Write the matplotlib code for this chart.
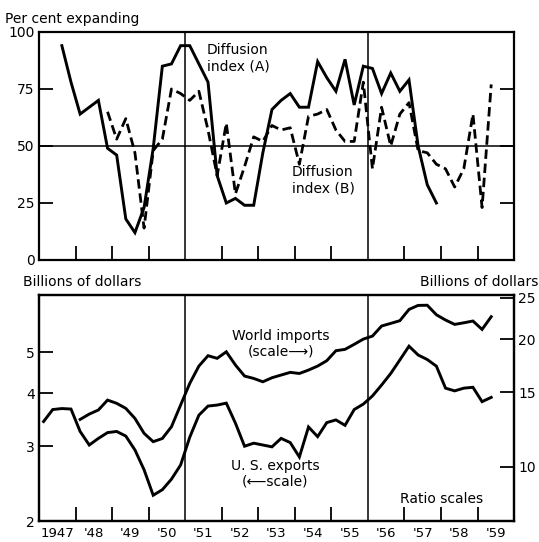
import matplotlib.pyplot as plt
import numpy as np
from matplotlib.ticker import FixedLocator, NullLocator, NullFormatter, FixedFormatter

# quarterly observations, 1947 Q1 .. 1959 Q2 (plotted at mid-quarter)
quarters = [1947 + (q + 0.5) / 4 for q in range(50)]
nan = np.nan

diffusion_a = [nan, nan, 94, 78, 64, 67, 70, 49, 46, 18,
               12, 23, 49, 85, 86, 94, 94, 86, 78, 37,
               25, 27, 24, 24, 47, 66, 70, 73, 67, 67,
               87, 80, 74, 88, 68, 85, 84, 73, 82, 74,
               79, 50, 33, 25, nan, nan, nan, nan, nan, nan]

diffusion_b = [nan, nan, nan, nan, nan, nan, nan, 65, 53, 62,
               47, 14, 48, 53, 75, 73, 70, 74, 57, 37,
               60, 29, 41, 54, 52, 59, 57, 58, 42, 63,
               64, 66, 57, 52, 52, 78, 40, 67, 50, 64,
               69, 48, 47, 42, 40, 32, 40, 64, 23, 77]

us_exports = [3.43, 3.66, 3.68, 3.67, 3.25, 3.02, 3.13, 3.23, 3.25, 3.17,
              2.94, 2.64, 2.30, 2.37, 2.51, 2.71, 3.15, 3.55, 3.73, 3.75,
              3.79, 3.40, 3.00, 3.05, 3.02, 2.99, 3.13, 3.06, 2.83, 3.33,
              3.16, 3.41, 3.46, 3.36, 3.66, 3.77, 3.94, 4.18, 4.45, 4.79,
              5.16, 4.92, 4.80, 4.63, 4.11, 4.05, 4.11, 4.13, 3.82, 3.91]

world_imports = [nan, nan, nan, nan, 12.94, 13.32, 13.62, 14.37, 14.12, 13.74,
                 13.01, 12.00, 11.47, 11.67, 12.44, 13.99, 15.73, 17.28, 18.28, 18.02,
                 18.67, 17.38, 16.37, 16.16, 15.87, 16.22, 16.46, 16.70, 16.60, 16.91,
                 17.28, 17.79, 18.78, 18.92, 19.44, 20.00, 20.33, 21.47, 21.78, 22.10,
                 23.49, 24.01, 24.03, 22.82, 22.18, 21.66, 21.85, 22.06, 21.08, 22.58]

year_ticks = [1948, 1949, 1950, 1952, 1953, 1954, 1955, 1957, 1958, 1959]
marker_years = [1951, 1956]
year_labels = ["1947", "'48", "'49", "'50", "'51", "'52", "'53", "'54", "'55", "'56", "'57", "'58", "'59"]
year_label_pos = [y + 0.5 for y in range(1947, 1960)]

left_ticks = [2, 3, 4, 5]
right_ticks = [10, 15, 20, 25]
ratio = 3.73  # right scale / left scale

plt.rcParams['font.family'] = ['DejaVu Sans']
fig = plt.figure(figsize=(5.39, 5.42), dpi=100)

ax1 = fig.add_axes([0.0724, 0.5203, 0.8813, 0.4207])
ax2 = fig.add_axes([0.0724, 0.0387, 0.8813, 0.4170])

solid = dict(color='black', lw=2.1, solid_joinstyle='miter')
dashed = dict(color='black', lw=2.0, ls=(0, (3.4, 1.7)))

# --- top panel: diffusion indexes
ax1.plot(quarters, diffusion_a, **solid)
ax1.plot(quarters, diffusion_b, **dashed)
ax1.axhline(50, color='black', lw=1.1)
ax1.set_xlim(1947, 1960)
ax1.set_ylim(0, 100)
ax1.set_yticks([0, 25, 50, 75, 100])
ax1.yaxis.set_minor_locator(NullLocator())

# --- bottom panel: trade, ratio scales
ax2.plot(quarters, us_exports, **solid)
ax2.set_yscale('log')
ax2.set_ylim(2, 6.81)
ax2.set_xlim(1947, 1960)
ax2.yaxis.set_major_locator(FixedLocator(left_ticks))
ax2.yaxis.set_major_formatter(FixedFormatter([str(t) for t in left_ticks]))
ax2.yaxis.set_minor_locator(NullLocator())
ax2.yaxis.set_minor_formatter(NullFormatter())

ax3 = ax2.twinx()
ax3.plot(quarters, world_imports, **solid)
ax3.set_yscale('log')
ax3.set_ylim(2 * ratio, 6.81 * ratio)
ax3.yaxis.set_major_locator(FixedLocator(right_ticks))
ax3.yaxis.set_major_formatter(FixedFormatter([str(t) for t in right_ticks]))
ax3.yaxis.set_minor_locator(NullLocator())
ax3.yaxis.set_minor_formatter(NullFormatter())
ax3.tick_params(axis='y', direction='in', length=10, width=1.3, pad=3, labelsize=10)

for ax in (ax1, ax2):
    for yr in marker_years:
        ax.axvline(yr, color='black', lw=1.1)
    ax.set_xticks(year_ticks)
    ax.set_xticks(year_label_pos, minor=True)
    ax.tick_params(axis='x', which='major', direction='in', length=10, width=1.3, labelbottom=False)
    ax.tick_params(axis='x', which='minor', length=0, pad=4, labelsize=9.5)
    ax.tick_params(axis='y', direction='in', length=10, width=1.3, pad=3, labelsize=10)

ax1.tick_params(axis='y', right=True)
ax1.tick_params(axis='x', which='minor', labelbottom=False)
ax2.set_xticklabels(year_labels, minor=True)

for ax in (ax1, ax2, ax3):
    for spine in ax.spines.values():
        spine.set_linewidth(1.6)

# --- annotations
ax1.text(1951.6, 95, "Diffusion\nindex (A)", ha='left', va='top', fontsize=10, linespacing=1.15)
ax1.text(1953.92, 41.5, "Diffusion\nindex (B)", ha='left', va='top', fontsize=10, linespacing=1.15)
ax2.text(0.509, 0.85, "World imports\n(scale\u27f6)", transform=ax2.transAxes,
         ha='center', va='top', fontsize=10, linespacing=1.15)
ax2.text(0.497, 0.275, "U. S. exports\n(\u27f5scale)", transform=ax2.transAxes,
         ha='center', va='top', fontsize=10, linespacing=1.15)
ax2.text(0.848, 0.097, "Ratio scales", transform=ax2.transAxes,
         ha='center', va='center', fontsize=10)

fig.text(0.009, 0.958, "Per cent expanding", ha='left', va='baseline', fontsize=10)
fig.text(0.043, 0.472, "Billions of dollars", ha='left', va='baseline', fontsize=10)
fig.text(0.998, 0.472, "Billions of dollars", ha='right', va='baseline', fontsize=10)

plt.savefig("out.png", dpi=100)
plt.close()
